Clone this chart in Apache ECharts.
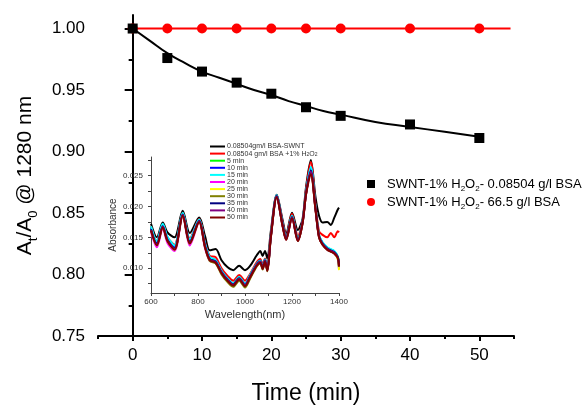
<!DOCTYPE html>
<html>
<head>
<meta charset="utf-8">
<script src="https://cdn.jsdelivr.net/npm/echarts@6/dist/echarts.min.js"></script>
<style>
html,body{margin:0;padding:0;background:#fff}
#chart{width:587px;height:405px}
</style>
</head>
<body>
<div id="chart"></div>
<script>
// main plot: A_t/A_0 at 1280 nm against time
var time_min = [0, 5, 10, 15, 20, 25, 30, 40, 50];
var ratio_low_bsa = [1.000, 0.976, 0.965, 0.956, 0.947, 0.936, 0.929, 0.922, 0.911];
var ratio_high_bsa = [1.000, 1.000, 1.000, 1.000, 1.000, 1.000, 1.000, 1.000, 1.000];
var fit_time = [0, 2.5, 5, 7.5, 10, 12.5, 15, 17.5, 20, 22.5, 25, 27.5, 30, 35, 40, 45, 50];
var fit_ratio = [1.000, 0.990, 0.980, 0.972, 0.965, 0.960, 0.955, 0.950, 0.946, 0.941, 0.937, 0.933, 0.930, 0.924, 0.920, 0.916, 0.912];
var high_line_time = [0, 54.5];
var high_line_ratio = [1.000, 1.000];
var y_ticks = [0.75, 0.80, 0.85, 0.90, 0.95, 1.00];
var y_minor = [0.775, 0.825, 0.875, 0.925, 0.975];
var x_ticks = [0, 10, 20, 30, 40, 50];
var x_minor = [-5, 5, 15, 25, 35, 45, 55];

// inset: absorbance spectra
var wavelength = [600, 625, 650, 670, 700, 735, 765, 805, 830, 850, 875, 900, 925, 950, 975, 1000, 1020, 1050, 1065, 1075, 1085, 1095, 1110, 1135, 1160, 1175, 1200, 1225, 1245, 1260, 1280, 1300, 1315, 1330, 1350, 1365, 1380, 1395, 1400];
var abs_bsa_swnt = [.0172,.0150,.0174,.0158,.0150,.0193,.0157,.0182,.0152,.0129,.0131,.0113,.0102,.0097,.0104,.0097,.0103,.0121,.0128,.0120,.0128,.0116,.0160,.0219,.0178,.0155,.0190,.0162,.0180,.0232,.0275,.0215,.0185,.0174,.0175,.0170,.0182,.0195,.0198];
var abs_h2o2 = [.0168,.0144,.0171,.0150,.0138,.0190,.0148,.0180,.0142,.0120,.0118,.0100,.0088,.0080,.0089,.0080,.0090,.0110,.0115,.0106,.0116,.0103,.0155,.0218,.0174,.0152,.0188,.0152,.0177,.0228,.0272,.0203,.0160,.0154,.0150,.0157,.0150,.0160,.0158];
var abs_5 = [.0165,.0141,.0170,.0148,.0134,.0189,.0144,.0179,.0138,.0117,.0112,.0095,.0083,.0075,.0085,.0074,.0087,.0107,.0112,.0102,.0114,.0099,.0153,.0218,.0171,.0149,.0185,.0148,.0176,.0224,.0262,.0199,.0154,.0141,.0133,.0130,.0127,.0119,.0105];
var abs_10 = [.0166,.0142,.0171,.0149,.0135,.0189,.0145,.0179,.0139,.0117,.0113,.0095,.0083,.0075,.0085,.0075,.0087,.0107,.0112,.0102,.0114,.0099,.0153,.0218,.0172,.0149,.0185,.0147,.0176,.0224,.0263,.0199,.0153,.0141,.0133,.0130,.0127,.0116,.0099];
var abs_15 = [.0168,.0144,.0172,.0151,.0137,.0190,.0147,.0179,.0140,.0118,.0113,.0096,.0084,.0076,.0086,.0075,.0088,.0107,.0112,.0102,.0114,.0099,.0153,.0218,.0172,.0149,.0185,.0148,.0176,.0224,.0264,.0199,.0154,.0142,.0134,.0131,.0128,.0119,.0106];
var abs_20 = [.0159,.0134,.0164,.0141,.0128,.0184,.0137,.0174,.0132,.0112,.0109,.0092,.0080,.0072,.0082,.0071,.0084,.0104,.0109,.0099,.0111,.0096,.0150,.0215,.0168,.0146,.0181,.0144,.0173,.0220,.0255,.0195,.0150,.0138,.0130,.0127,.0124,.0115,.0100];
var abs_25 = [.0161,.0137,.0166,.0144,.0130,.0185,.0140,.0175,.0134,.0113,.0109,.0092,.0080,.0072,.0082,.0071,.0084,.0105,.0110,.0100,.0112,.0097,.0151,.0216,.0169,.0147,.0182,.0145,.0174,.0221,.0256,.0196,.0151,.0139,.0131,.0128,.0125,.0114,.0097];
var abs_30 = [.0162,.0138,.0167,.0145,.0131,.0186,.0141,.0176,.0134,.0112,.0108,.0090,.0078,.0070,.0080,.0069,.0082,.0103,.0108,.0098,.0110,.0095,.0150,.0216,.0169,.0146,.0182,.0144,.0173,.0221,.0255,.0195,.0150,.0138,.0130,.0127,.0124,.0116,.0102];
var abs_35 = [.0163,.0139,.0168,.0146,.0132,.0187,.0142,.0177,.0136,.0115,.0111,.0094,.0082,.0074,.0084,.0073,.0086,.0106,.0111,.0101,.0113,.0098,.0152,.0217,.0170,.0148,.0183,.0146,.0175,.0222,.0258,.0197,.0152,.0140,.0132,.0129,.0126,.0118,.0104];
var abs_40 = [.0162,.0138,.0167,.0145,.0131,.0186,.0141,.0176,.0135,.0114,.0110,.0093,.0081,.0073,.0083,.0072,.0085,.0105,.0110,.0100,.0112,.0097,.0151,.0216,.0169,.0147,.0182,.0145,.0174,.0221,.0256,.0196,.0151,.0139,.0131,.0128,.0125,.0117,.0103];
var abs_50 = [.0161,.0137,.0166,.0144,.0130,.0185,.0140,.0175,.0134,.0113,.0109,.0092,.0080,.0072,.0082,.0071,.0084,.0104,.0109,.0099,.0111,.0096,.0150,.0215,.0168,.0146,.0181,.0144,.0173,.0220,.0252,.0195,.0150,.0138,.0130,.0127,.0124,.0117,.0103];
var inset_x_ticks = [600, 800, 1000, 1200, 1400];
var inset_x_all_ticks = [600, 700, 800, 900, 1000, 1100, 1200, 1300, 1400];
var inset_y_ticks = [0.010, 0.015, 0.020, 0.025];
var inset_y_all_ticks = [0.0075, 0.010, 0.0125, 0.015, 0.0175, 0.020, 0.0225, 0.025, 0.0275];

var FONT = '"Liberation Sans", Arial, sans-serif';

function pairs(xs, ys){
	var out = [];
	for(var i = 0; i < xs.length; i++){
		out.push([xs[i], ys[i]]);
	}
	return out;
}

function sub_h2o2(name){
	return name.replace('H2O2', 'H{s|2}O{s|2}');
}

var spectra = [
	{name: '0.08504gm/l BSA-SWNT', data: abs_bsa_swnt, color: '#000000'},
	{name: '0.08504 gm/l BSA +1% H2O2', data: abs_h2o2, color: '#ff0000'},
	{name: '5 min', data: abs_5, color: '#00ff00'},
	{name: '10 min', data: abs_10, color: '#0000ff'},
	{name: '15 min', data: abs_15, color: '#00ffff'},
	{name: '20 min', data: abs_20, color: '#ff00ff'},
	{name: '25 min', data: abs_25, color: '#ffff00'},
	{name: '30 min', data: abs_30, color: '#808000'},
	{name: '35 min', data: abs_35, color: '#000080'},
	{name: '40 min', data: abs_40, color: '#800080'},
	{name: '50 min', data: abs_50, color: '#800000'}
];

var main_names = ['SWNT-1% H2O2- 0.08504 g/l BSA', 'SWNT-1% H2O2- 66.5 g/l BSA'];

var series = [
	{
		type: 'line', xAxisIndex: 0, yAxisIndex: 0, silent: true,
		data: pairs(fit_time, fit_ratio), smooth: true, symbol: 'none',
		lineStyle: {color: '#000', width: 2}, z: 2
	},
	{
		type: 'line', xAxisIndex: 0, yAxisIndex: 0, silent: true,
		data: pairs(high_line_time, high_line_ratio), symbol: 'none',
		lineStyle: {color: '#ff0000', width: 2}, z: 2
	},
	{
		name: main_names[1], type: 'scatter', xAxisIndex: 0, yAxisIndex: 0,
		data: pairs(time_min, ratio_high_bsa), symbol: 'circle', symbolSize: 10,
		itemStyle: {color: '#ff0000', opacity: 1}, z: 3
	},
	{
		name: main_names[0], type: 'scatter', xAxisIndex: 0, yAxisIndex: 0,
		data: pairs(time_min, ratio_low_bsa), symbol: 'rect', symbolSize: 10,
		itemStyle: {color: '#000', opacity: 1}, z: 4
	}
];
spectra.forEach(function(s){
	series.push({
		name: s.name, type: 'line', xAxisIndex: 2, yAxisIndex: 2,
		data: pairs(wavelength, s.data), smooth: 0.3, symbol: 'none',
		lineStyle: {color: s.color, width: 2}, itemStyle: {color: s.color}
	});
});

var chart = echarts.init(document.getElementById('chart'));
var option = {
	animation: false,
	textStyle: {fontFamily: FONT},
	grid: [
		{left: 98, right: 73, top: 15, bottom: 69, outerBoundsMode: 'none', containLabel: false},
		{left: 151, right: 248, top: 157, bottom: 112, outerBoundsMode: 'none', containLabel: false}
	],
	legend: [
		{
			data: main_names, orient: 'vertical', left: 362, top: 170,
			itemWidth: 8, itemHeight: 8, itemGap: 0,
			formatter: sub_h2o2,
			textStyle: {
				fontFamily: FONT, fontSize: 13, color: '#000', lineHeight: 18, padding: [0, 0, 0, 7],
				rich: {s: {fontFamily: FONT, fontSize: 8, lineHeight: 8, verticalAlign: 'bottom', color: '#000'}}
			}
		},
		{
			data: spectra.map(function(s){ return s.name; }), orient: 'vertical', left: 205, top: 138,
			icon: 'rect', itemWidth: 15, itemHeight: 2, itemGap: 0.1,
			formatter: sub_h2o2,
			textStyle: {
				fontFamily: FONT, fontSize: 7, color: '#333', lineHeight: 7, padding: [0, 0, 0, -3],
				rich: {s: {fontFamily: FONT, fontSize: 5, lineHeight: 5, verticalAlign: 'bottom', color: '#333'}}
			}
		}
	],
	xAxis: [
		{
			gridIndex: 0, type: 'value', min: -5, max: 55, position: 'bottom',
			name: 'Time (min)', nameLocation: 'middle', nameGap: 46,
			nameTextStyle: {fontFamily: FONT, fontSize: 23, color: '#000'},
			axisLine: {lineStyle: {color: '#000', width: 2}},
			axisTick: {customValues: x_ticks, length: 5, lineStyle: {color: '#000', width: 2}},
			axisLabel: {customValues: x_ticks, fontFamily: FONT, fontSize: 17, color: '#000', margin: 11},
			splitLine: {show: false}
		},
		{
			gridIndex: 0, type: 'value', min: -5, max: 55, position: 'bottom',
			axisLine: {show: false},
			axisTick: {customValues: x_minor, length: 3, lineStyle: {color: '#000', width: 2}},
			axisLabel: {show: false},
			splitLine: {show: false}
		},
		{
			gridIndex: 1, type: 'value', min: 600, max: 1400, position: 'bottom',
			name: 'Wavelength(nm)', nameLocation: 'middle', nameGap: 16,
			nameTextStyle: {fontFamily: FONT, fontSize: 11, color: '#333'},
			axisLine: {lineStyle: {color: '#444', width: 1}},
			axisTick: {customValues: inset_x_all_ticks, length: 3, lineStyle: {color: '#444'}},
			axisLabel: {
				customValues: inset_x_ticks, fontFamily: FONT, fontSize: 8, color: '#333', margin: 5,
				formatter: function(v){ return String(v); }
			},
			splitLine: {show: false}
		}
	],
	yAxis: [
		{
			gridIndex: 0, type: 'value', min: 0.75, max: 1.011, position: 'left',
			name: '{n|A}{s|t}{n|/A}{s|0}{n| @ 1280 nm}', nameLocation: 'middle', nameGap: 58,
			nameTextStyle: {
				fontFamily: FONT, fontSize: 21, color: '#000',
				rich: {
					n: {fontFamily: FONT, fontSize: 21, lineHeight: 30, color: '#000'},
					s: {fontFamily: FONT, fontSize: 13, lineHeight: 13, verticalAlign: 'bottom', color: '#000'}
				}
			},
			axisLine: {lineStyle: {color: '#000', width: 2}},
			axisTick: {customValues: y_ticks, length: 8, lineStyle: {color: '#000', width: 2}},
			axisLabel: {
				customValues: y_ticks, fontFamily: FONT, fontSize: 17, color: '#000', margin: 13,
				formatter: function(v){ return v.toFixed(2); }
			},
			splitLine: {show: false}
		},
		{
			gridIndex: 0, type: 'value', min: 0.75, max: 1.011, position: 'left',
			axisLine: {show: false},
			axisTick: {customValues: y_minor, length: 4, lineStyle: {color: '#000', width: 2}},
			axisLabel: {show: false},
			splitLine: {show: false}
		},
		{
			gridIndex: 1, type: 'value', min: 0.006, max: 0.028, position: 'left',
			name: 'Absorbance', nameLocation: 'middle', nameGap: 33,
			nameTextStyle: {fontFamily: FONT, fontSize: 10, color: '#333'},
			axisLine: {lineStyle: {color: '#444', width: 1}},
			axisTick: {customValues: inset_y_all_ticks, length: 3, lineStyle: {color: '#444'}},
			axisLabel: {
				customValues: inset_y_ticks, fontFamily: FONT, fontSize: 8, color: '#333', margin: 8,
				formatter: function(v){ return v.toFixed(3); }
			},
			splitLine: {show: false}
		}
	],
	series: series
};
chart.setOption(option);
</script>
</body>
</html>
